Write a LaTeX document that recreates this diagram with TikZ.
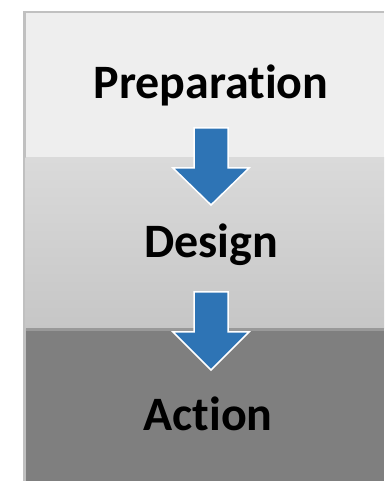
\documentclass[tikz,border=0pt]{standalone}
\usepackage{fontspec}
\setmainfont[Ligatures=NoCommon]{Carlito}
\definecolor{bordergray}{HTML}{C0C0C0}
\definecolor{bandone}{HTML}{EEEEEE}
\definecolor{bandtwotop}{HTML}{DADADA}
\definecolor{bandtwobot}{HTML}{C6C6C6}
\definecolor{sepline}{HTML}{999999}
\definecolor{bandthree}{HTML}{7F7F7F}
\definecolor{arrowblue}{HTML}{2E74B5}
\tikzset{
  label text/.style={font=\bfseries\fontsize{48}{54}\selectfont, text=black, anchor=base, inner sep=0pt},
  blockarrow/.style={fill=arrowblue, draw=white, line width=1.5pt, line join=miter}
}
\begin{document}
\begin{tikzpicture}[x=1pt,y=1pt]
\useasboundingbox (0,0) rectangle (384,481);
\fill[white] (0,0) rectangle (384,481);
% panel
\fill[bordergray] (23,0) rectangle (384,470);
\fill[bandone] (25.5,323) rectangle (384,468);
\shade[top color=bandtwotop, bottom color=bandtwobot] (25.5,152) rectangle (384,323);
\fill[sepline] (25.5,150) rectangle (384,152.5);
\fill[bandthree] (25.5,0) rectangle (384,150);
% labels
\node[label text] (prep) at (211,382) {Preparation};
\node[label text] (design) at (211,223) {Design};
\node[label text] (action) at (208,50) {Action};
% arrows
\draw[blockarrow] (194,353) -- (228,353) -- (228,313) -- (249,313) -- (211,276) -- (173,313) -- (194,313) -- cycle;
\draw[blockarrow] (194,189) -- (228,189) -- (228,149) -- (249,149) -- (211,111) -- (173,149) -- (194,149) -- cycle;
\end{tikzpicture}
\end{document}
